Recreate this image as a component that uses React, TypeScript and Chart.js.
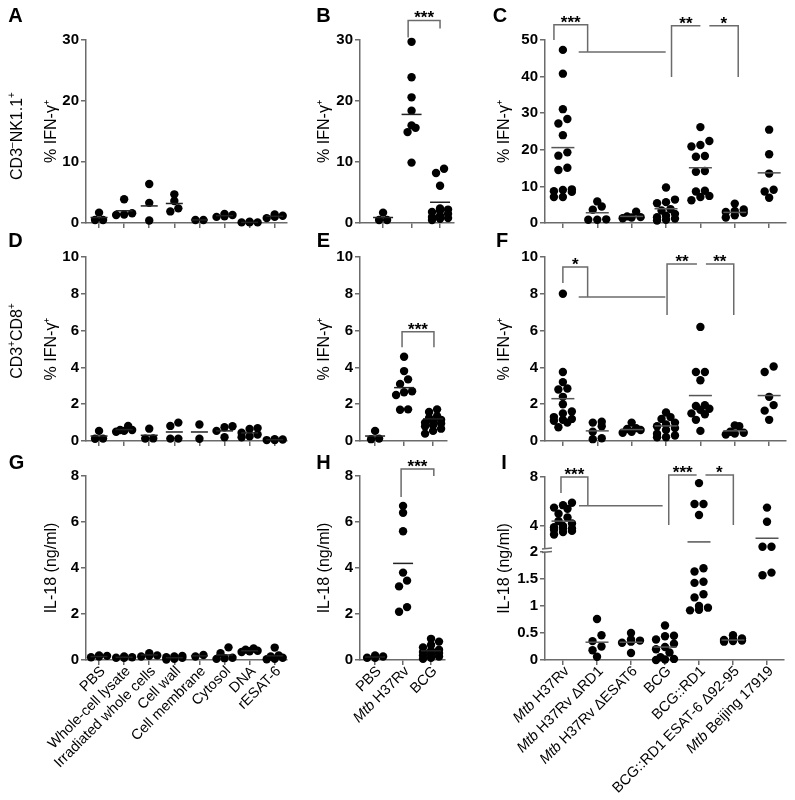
import React, { useEffect, useRef } from 'react';
import { Chart, registerables } from 'chart.js';
Chart.register(...registerables);

const FONT = "'Liberation Sans', Arial, Helvetica, sans-serif";
const AX = '#6b6b6b';
const BR = '#6b6b6b';

// ---------- categories ----------
const antigenCats = ['PBS', 'Whole-cell lysate', 'Irradiated whole cells', 'Cell wall', 'Cell membrane', 'Cytosol', 'DNA', 'rESAT-6'];
const infectCats = ['PBS', '_Mtb_ H37Rv', 'BCG'];
const strainCats = ['_Mtb_ H37Rv', '_Mtb_ H37Rv ΔRD1', '_Mtb_ H37Rv ΔESAT6', 'BCG', 'BCG::RD1', 'BCG::RD1 ESAT-6 Δ92-95', '_Mtb_ Beijing 17919'];

// ---------- tick labels ----------
const ticksNK = [0, 10, 20, 30];
const ticksNKStrain = [0, 10, 20, 30, 40, 50];
const ticksCD8 = [0, 2, 4, 6, 8, 10];
const ticksIL = [0, 2, 4, 6, 8];
const ticksILBreak = [0, 0.5, 1, 1.5, 2, 4, 8];
const labelsILBreak = ['0', '0.5', '1', '1.5', '2', '4', '8'];

// ---------- A: CD3-NK1.1+ , antigens ----------
const nkAntigen = [[1.7, 0.5, 0.5], [3.9, 1.6, 1.4, 1.3], [6.4, 3.3, 0.4], [4.7, 3.6, 2.4, 1.9], [0.5, 0.5], [1.5, 1.3, 1.1, 1.0], [0.2, 0.1, 0.1, 0.1], [1.4, 1.2, 1.0, 0.8]];
const nkAntigenMean = [0.9, 2.0, 2.8, 3.2, 0.5, 1.2, 0.1, 1.1];
// ---------- B ----------
const nkInfect = [[1.7, 0.5, 0.5], [29.7, 23.9, 20.6, 18.4, 16.0, 15.6, 14.9, 9.9], [8.9, 8.2, 6.1, 2.4, 2.2, 2.0, 1.8, 1.5, 1.2, 1.0, 0.8, 0.7, 0.5]];
const nkInfectMean = [0.9, 17.8, 3.4];
// ---------- C ----------
const nkStrain = [
  [47.3, 40.8, 31.1, 28.4, 27.2, 24.0, 19.3, 18.4, 15.1, 14.5, 9.2, 9.0, 8.7, 8.5, 7.1, 7.1],
  [5.9, 4.5, 3.6, 1.0, 0.9, 0.9],
  [3.1, 1.8, 1.6, 1.5, 1.3],
  [9.7, 6.4, 5.7, 5.4, 3.8, 3.4, 2.5, 2.0, 1.6, 1.2, 0.9, 0.7],
  [26.2, 22.4, 21.3, 20.9, 18.3, 18.1, 14.2, 14.0, 8.8, 8.6, 7.4, 7.1, 6.2],
  [5.3, 3.7, 3.3, 3.0, 2.8, 2.1, 1.5],
  [25.5, 18.8, 13.5, 9.1, 8.6, 6.9],
];
const nkStrainMean = [20.6, 2.8, 1.8, 3.9, 15.1, 2.9, 13.7];
// ---------- D ----------
const cd8Antigen = [[0.55, 0.13, 0.12], [0.82, 0.6, 0.6, 0.55, 0.5], [0.67, 0.14, 0.13], [1.0, 0.82, 0.13, 0.13], [0.9, 0.12], [0.8, 0.75, 0.55, 0.2], [0.7, 0.65, 0.45, 0.35, 0.25, 0.2], [0.1, 0.08, 0.05, 0.05]];
const cd8AntigenMean = [0.27, 0.62, 0.31, 0.49, 0.49, 0.55, 0.44, 0.07];
// ---------- E ----------
const cd8Infect = [[0.55, 0.13, 0.1], [4.58, 3.8, 3.35, 3.1, 2.7, 2.65, 2.5, 1.72, 1.7], [1.72, 1.58, 1.35, 1.25, 1.15, 1.05, 1.0, 0.95, 0.85, 0.8, 0.67, 0.55, 0.4]];
const cd8InfectMean = [0.27, 2.9, 1.2];
// ---------- F ----------
const cd8Strain = [
  [8.0, 3.75, 3.2, 2.85, 2.8, 2.4, 2.0, 1.6, 1.5, 1.3, 1.2, 1.15, 1.1, 1.0, 0.75],
  [1.05, 1.0, 0.8, 0.5, 0.15, 0.1],
  [1.0, 0.7, 0.65, 0.6, 0.5, 0.45],
  [1.55, 1.3, 1.2, 1.0, 0.9, 0.8, 0.7, 0.6, 0.4, 0.3, 0.2, 0.2],
  [6.2, 3.75, 3.75, 3.3, 1.95, 1.9, 1.75, 1.7, 1.5, 1.45, 1.15, 0.55],
  [0.85, 0.8, 0.5, 0.45, 0.4, 0.35],
  [4.05, 3.75, 2.4, 1.95, 1.65, 1.15],
];
const cd8StrainMean = [2.3, 0.55, 0.62, 0.82, 2.47, 0.55, 2.47];
// ---------- G ----------
const ilAntigen = [[0.2, 0.18, 0.15, 0.12], [0.15, 0.12, 0.1, 0.1], [0.3, 0.2, 0.18, 0.15], [0.18, 0.15, 0.12, 0.1, 0.05, 0.02], [0.22, 0.15], [0.55, 0.3, 0.1, 0.08, 0.05], [0.5, 0.45, 0.4, 0.38, 0.35], [0.54, 0.2, 0.15, 0.1, 0.05, 0.03]];
const ilAntigenMean = [0.15, 0.12, 0.22, 0.1, 0.18, 0.22, 0.4, 0.18];
// ---------- H ----------
const ilInfect = [[0.2, 0.15, 0.1, 0.1], [6.7, 6.4, 5.6, 3.8, 3.45, 3.2, 2.3, 2.1], [0.92, 0.8, 0.65, 0.55, 0.45, 0.4, 0.35, 0.3, 0.25, 0.2, 0.15, 0.1, 0.05]];
const ilInfectMean = [0.13, 4.2, 0.4];
// ---------- I ----------
const ilStrain = [
  [5.9, 5.7, 5.5, 5.4, 5.0, 4.7, 4.4, 4.2, 4.0, 3.9, 3.8, 3.8, 3.7, 3.6, 3.5, 3.3],
  [0.76, 0.46, 0.35, 0.25, 0.18, 0.06],
  [0.5, 0.38, 0.36, 0.34, 0.32, 0.13],
  [0.64, 0.45, 0.44, 0.38, 0.3, 0.24, 0.2, 0.14, 0.05, 0.02, 0.01, 0.0],
  [7.5, 5.8, 5.8, 4.9, 1.7, 1.64, 1.45, 1.43, 1.22, 1.16, 1.0, 0.97, 0.93, 0.92],
  [0.46, 0.4, 0.38, 0.37, 0.36, 0.35, 0.34],
  [5.5, 4.35, 2.3, 2.3, 1.62, 1.57],
];
const ilStrainMean = [4.4, 0.33, 0.33, 0.24, 2.7, 0.37, 3.0];

// ---------- significance brackets (data coordinates) ----------
type Bracket = { x1: number; x2: number; top: number; left?: number; right?: number; label: string };
type Seg = { x1: number; x2: number; y: number };
const bracketsB: Bracket[] = [{ x1: 0.88, x2: 2.0, top: 33.2, left: 30.4, right: 31.9, label: '***' }];
const bracketsC: Bracket[] = [
  { x1: -0.26, x2: 0.72, top: 54.2, left: 50.0, right: 46.7, label: '***' },
  { x1: 3.16, x2: 4.0, top: 53.9, left: 39.9, label: '**' },
  { x1: 4.26, x2: 5.1, top: 53.9, right: 39.9, label: '*' },
];
const linesC: Seg[] = [{ x1: 0.46, x2: 2.99, y: 46.7 }];
const bracketsE: Bracket[] = [{ x1: 0.93, x2: 2.03, top: 5.94, left: 5.09, right: 5.09, label: '***' }];
const bracketsF: Bracket[] = [
  { x1: 0.0, x2: 0.72, top: 9.46, left: 8.59, right: 7.83, label: '*' },
  { x1: 3.03, x2: 3.9, top: 9.62, left: 6.85, label: '**' },
  { x1: 4.16, x2: 4.97, top: 9.62, right: 6.85, label: '**' },
];
const linesF: Seg[] = [{ x1: 0.46, x2: 2.98, y: 7.83 }];
const bracketsH: Bracket[] = [{ x1: 0.93, x2: 2.1, top: 8.3, left: 7.09, right: 8.0, label: '***' }];
const bracketsI: Bracket[] = [
  { x1: -0.06, x2: 0.73, top: 8.0, left: 6.7, right: 5.66, label: '***' },
  { x1: 3.11, x2: 3.93, top: 8.17, left: 4.08, label: '***' },
  { x1: 4.19, x2: 5.01, top: 8.17, right: 4.08, label: '*' },
];
const linesI: Seg[] = [{ x1: 0.47, x2: 2.93, y: 5.66 }];

// broken y axis (panel I): 0-2 linear, then compressed 2-8
const identity = (v: number) => v;
const brokenAxis = (v: number) => (v <= 2 ? v : 2.03 + (v - 2) * 0.227);

const IFN = '% IFN-γ⁺';
const IL = 'IL-18 (ng/ml)';

type Panel = {
  id: string; cats: string[]; groups: number[][]; means: number[];
  yTicks: number[]; yLabels?: string[]; tr?: (v: number) => number;
  title: string; L: number; R: number; T: number; B: number; xMin: number; xMax: number;
  col: number; xLabels?: boolean; brackets?: Bracket[]; lines?: Seg[]; brk?: boolean;
};

const panels: Panel[] = [
  { id: 'A', cats: antigenCats, groups: nkAntigen, means: nkAntigenMean, yTicks: ticksNK, title: IFN, L: 86, R: 287, T: 40, B: 223, xMin: -0.52, xMax: 7.49, col: 1 },
  { id: 'B', cats: infectCats, groups: nkInfect, means: nkInfectMean, yTicks: ticksNK, title: IFN, L: 360, R: 454, T: 40, B: 223, xMin: -0.81, xMax: 2.49, col: 2, brackets: bracketsB },
  { id: 'C', cats: strainCats, groups: nkStrain, means: nkStrainMean, yTicks: ticksNKStrain, title: IFN, L: 545, R: 787, T: 40, B: 223, xMin: -0.52, xMax: 6.49, col: 3, brackets: bracketsC, lines: linesC },
  { id: 'D', cats: antigenCats, groups: cd8Antigen, means: cd8AntigenMean, yTicks: ticksCD8, title: IFN, L: 86, R: 287, T: 257, B: 441, xMin: -0.52, xMax: 7.49, col: 1 },
  { id: 'E', cats: infectCats, groups: cd8Infect, means: cd8InfectMean, yTicks: ticksCD8, title: IFN, L: 360, R: 447, T: 257, B: 441, xMin: -0.52, xMax: 2.48, col: 2, brackets: bracketsE },
  { id: 'F', cats: strainCats, groups: cd8Strain, means: cd8StrainMean, yTicks: ticksCD8, title: IFN, L: 545, R: 787, T: 257, B: 441, xMin: -0.52, xMax: 6.49, col: 3, brackets: bracketsF, lines: linesF },
  { id: 'G', cats: antigenCats, groups: ilAntigen, means: ilAntigenMean, yTicks: ticksIL, title: IL, L: 86, R: 287, T: 476, B: 660, xMin: -0.52, xMax: 7.49, col: 1, xLabels: true },
  { id: 'H', cats: infectCats, groups: ilInfect, means: ilInfectMean, yTicks: ticksIL, title: IL, L: 360, R: 445, T: 476, B: 660, xMin: -0.54, xMax: 2.5, col: 2, xLabels: true, brackets: bracketsH },
  { id: 'I', cats: strainCats, groups: ilStrain, means: ilStrainMean, yTicks: ticksILBreak, yLabels: labelsILBreak, tr: brokenAxis, title: IL, L: 545, R: 785, T: 477, B: 660, xMin: -0.53, xMax: 6.5, col: 3, xLabels: true, brackets: bracketsI, lines: linesI, brk: true },
];

const YW = 62;
const TOPPAD = 42;
const RPAD = 12;

// Prism-like column scatter: bin close values into rows and spread each row symmetrically
function swarm(vals: number[], gi: number, tr: (v: number) => number, yPx: number, xPx: number, sp: number, maxPer: number) {
  const ds = vals.map(tr).sort((a, b) => a - b);
  const rows: number[][] = [];
  let cur: number[] = [];
  for (const d of ds) {
    if (cur.length && ((d - cur[0]) * yPx > 6 || cur.length >= maxPer)) { rows.push(cur); cur = []; }
    cur.push(d);
  }
  if (cur.length) rows.push(cur);
  const pts: { x: number; y: number }[] = [];
  rows.forEach((r) => r.forEach((d, k) => pts.push({ x: gi + ((k - (r.length - 1) / 2) * sp) / xPx, y: d })));
  return pts;
}

function PanelChart({ p }: { p: Panel }) {
  const ref = useRef<HTMLCanvasElement>(null);
  const tr = p.tr || identity;
  const cx = p.L - YW;
  const cy = p.T - TOPPAD;
  const cw = p.R + RPAD - cx;
  const ch = (p.xLabels ? 800 : p.B + 16) - cy;

  useEffect(() => {
    const yMax = p.yTicks[p.yTicks.length - 1];
    const yPx = (p.B - p.T) / (tr(yMax) - tr(p.yTicks[0]));
    const xPx = (p.R - p.L) / (p.xMax - p.xMin);
    const sp = p.col === 3 ? 9 : 8;
    const pts = p.groups.flatMap((g, gi) => swarm(g, gi, tr, yPx, xPx, sp, 3));
    const meanPts = p.means.map((m, i) => ({ x: i, y: tr(m) }));
    const meanR = p.col === 1 ? 8.5 : p.col === 2 ? 10 : 11.5;
    const meanColor = p.col === 3 ? '#555' : '#222';
    const titleGap = p.col === 1 ? 34 : p.col === 2 ? 35 : 40;
    const titleSize = 16;
    const titlePad = YW - titleGap - (titleSize * 1.2) / 2;

    const annot = {
      id: 'annot' + p.id,
      afterDraw(chart: any) {
        const ctx: CanvasRenderingContext2D = chart.ctx;
        const xs = chart.scales.x;
        const ys = chart.scales.y;
        const X = (v: number) => xs.getPixelForValue(v);
        const Y = (v: number) => ys.getPixelForValue(tr(v));
        ctx.save();
        ctx.strokeStyle = BR;
        ctx.lineWidth = 1.5;
        (p.brackets || []).forEach((b) => {
          const x1 = X(b.x1), x2 = X(b.x2), yt = Y(b.top);
          ctx.beginPath();
          if (b.left != null) { ctx.moveTo(x1, Y(b.left)); ctx.lineTo(x1, yt); } else ctx.moveTo(x1, yt);
          ctx.lineTo(x2, yt);
          if (b.right != null) ctx.lineTo(x2, Y(b.right));
          ctx.stroke();
          ctx.fillStyle = '#000';
          ctx.font = `bold 17px ${FONT}`;
          ctx.textAlign = 'center';
          ctx.textBaseline = 'alphabetic';
          ctx.fillText(b.label, (x1 + x2) / 2, yt + 3);
        });
        (p.lines || []).forEach((s) => {
          ctx.beginPath();
          ctx.moveTo(X(s.x1), Y(s.y));
          ctx.lineTo(X(s.x2), Y(s.y));
          ctx.stroke();
        });
        if (p.brk) {
          const L = chart.chartArea.left;
          const y2 = ys.getPixelForValue(2);
          ctx.fillStyle = '#fff';
          ctx.fillRect(L - 2, y2 - 3.5, 4, 3);
          ctx.beginPath();
          ctx.moveTo(L - 3, y2 - 3); ctx.lineTo(L + 7, y2 - 4);
          ctx.moveTo(L - 3, y2 + 0.5); ctx.lineTo(L + 7, y2 - 0.5);
          ctx.stroke();
        }
        if (p.xLabels) {
          ctx.fillStyle = '#000';
          ctx.textBaseline = 'middle';
          ctx.textAlign = 'left';
          const fontOf = (it: boolean) => `${it ? 'italic ' : ''}14.5px ${FONT}`;
          p.cats.forEach((c, i) => {
            const parts = c.split('_').map((t, k) => ({ t, it: k % 2 === 1, w: 0 })).filter((z) => z.t);
            let total = 0;
            parts.forEach((z) => { ctx.font = fontOf(z.it); z.w = ctx.measureText(z.t).width; total += z.w; });
            ctx.save();
            ctx.translate(X(i) + 4, chart.chartArea.bottom + 9);
            ctx.rotate(-Math.PI / 4);
            let x = -total;
            parts.forEach((z) => { ctx.font = fontOf(z.it); ctx.fillText(z.t, x, 0); x += z.w; });
            ctx.restore();
          });
        }
        ctx.restore();
      },
    };

    const chart = new Chart(ref.current as HTMLCanvasElement, {
      type: 'scatter',
      data: {
        datasets: [
          { data: meanPts, pointStyle: 'line', pointRadius: meanR, pointHoverRadius: meanR, borderColor: meanColor, backgroundColor: meanColor, pointBorderWidth: 1.5, clip: false } as any,
          { data: pts, pointStyle: 'circle', pointRadius: 4.2, pointHoverRadius: 4.2, backgroundColor: '#000', borderColor: '#000', pointBorderWidth: 0, clip: false } as any,
        ],
      },
      options: {
        animation: false,
        responsive: false,
        maintainAspectRatio: false,
        devicePixelRatio: 1,
        events: [],
        layout: { padding: { left: 0, top: TOPPAD, right: RPAD, bottom: 0 } },
        plugins: { legend: { display: false }, tooltip: { enabled: false } },
        scales: {
          x: {
            type: 'linear', bounds: 'data', min: p.xMin, max: p.xMax,
            afterBuildTicks: (s: any) => { s.ticks = p.cats.map((_, i) => ({ value: i })); },
            afterFit: (s: any) => { s.height = ch - TOPPAD - (p.B - p.T); },
            grid: { drawOnChartArea: false, drawTicks: true, tickLength: 5, color: AX, lineWidth: 1.5 },
            border: { display: true, color: AX, width: 1.5 },
            ticks: { display: false },
          },
          y: {
            type: 'linear', bounds: 'data', min: tr(p.yTicks[0]), max: tr(yMax),
            afterBuildTicks: (s: any) => { s.ticks = p.yTicks.map((v) => ({ value: tr(v) })); },
            afterFit: (s: any) => { s.width = YW; },
            grid: { drawOnChartArea: false, drawTicks: true, tickLength: 5, color: AX, lineWidth: 1.5 },
            border: { display: true, color: AX, width: 1.5 },
            ticks: {
              color: '#000', padding: 2, font: { family: FONT, size: 15, weight: 'bold' },
              callback: (_v: any, i: number) => (p.yLabels ? p.yLabels[i] : String(p.yTicks[i])),
            },
            title: { display: true, text: p.title, color: '#000', font: { family: FONT, size: titleSize }, padding: { top: titlePad, bottom: 0 } },
          },
        },
      } as any,
      plugins: [annot],
    });
    return () => chart.destroy();
  }, []);

  return <canvas ref={ref} width={cw} height={ch} style={{ position: 'absolute', left: cx, top: cy, width: cw, height: ch }} />;
}

const letters = [
  { t: 'A', x: 15.5, y: 5 }, { t: 'B', x: 323.5, y: 5 }, { t: 'C', x: 500, y: 5 },
  { t: 'D', x: 15.5, y: 230 }, { t: 'E', x: 323.5, y: 230 }, { t: 'F', x: 502, y: 230 },
  { t: 'G', x: 16.5, y: 452 }, { t: 'H', x: 323.5, y: 452 }, { t: 'I', x: 504, y: 452 },
];

export default function App() {
  return (
    <div style={{ position: 'absolute', left: 0, top: 0, width: 795, height: 800, background: '#fff', fontFamily: FONT, overflow: 'hidden' }}>
      {panels.map((p) => <PanelChart key={p.id} p={p} />)}
      {letters.map((l) => (
        <div key={l.t} style={{ position: 'absolute', left: l.x - 15, top: l.y, width: 30, textAlign: 'center', fontWeight: 'bold', fontSize: 20, lineHeight: '20px', color: '#000' }}>{l.t}</div>
      ))}
      <div style={{ position: 'absolute', left: 16, top: 136, transform: 'translate(-50%, -50%) rotate(-90deg)', whiteSpace: 'nowrap', fontSize: 16, color: '#000' }}>
        CD3<sup style={{ fontSize: 10 }}>–</sup>NK1.1<sup style={{ fontSize: 10 }}>+</sup>
      </div>
      <div style={{ position: 'absolute', left: 16, top: 341, transform: 'translate(-50%, -50%) rotate(-90deg)', whiteSpace: 'nowrap', fontSize: 16, color: '#000' }}>
        CD3<sup style={{ fontSize: 10 }}>+</sup>CD8<sup style={{ fontSize: 10 }}>+</sup>
      </div>
    </div>
  );
}
